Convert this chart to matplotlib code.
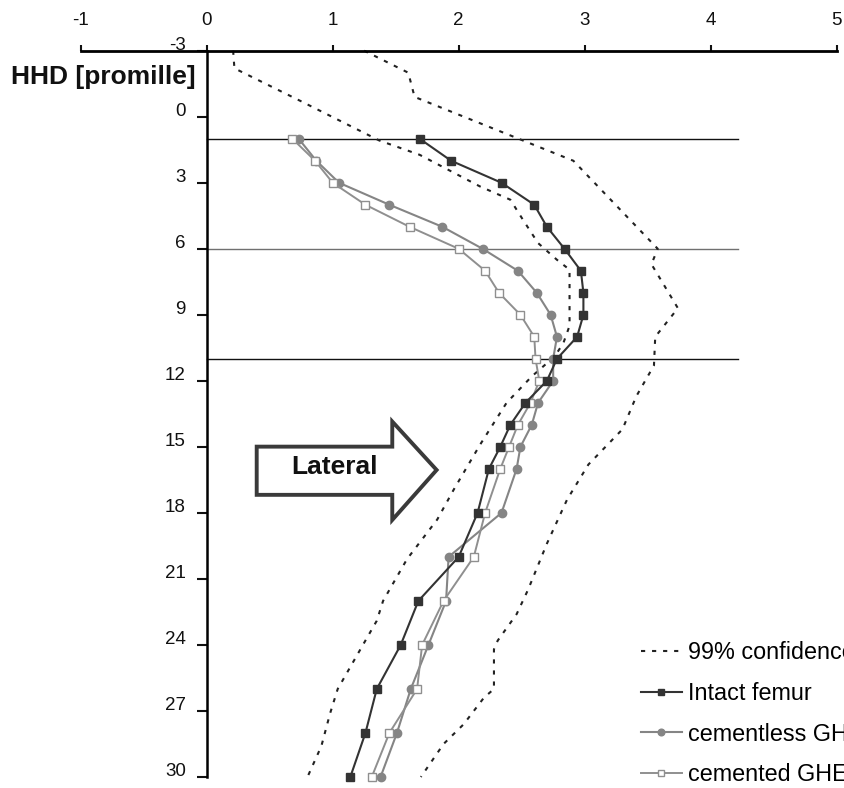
import matplotlib
matplotlib.use("Agg")
import matplotlib.pyplot as plt
from matplotlib.patches import Polygon
from matplotlib.transforms import ScaledTranslation

plt.rcParams['font.family'] = ['Liberation Sans', 'DejaVu Sans']
plt.rcParams['axes.unicode_minus'] = False

# Depth along the femur (HHD, promille) and measured strain-like values
depth = [1, 2, 3, 4, 5, 6, 7, 8, 9, 10, 11, 12, 13, 14, 15, 16, 18, 20, 22, 24, 26, 28, 30]
intact = [1.69, 1.94, 2.34, 2.60, 2.70, 2.84, 2.97, 2.99, 2.99, 2.94, 2.78, 2.70,
          2.53, 2.41, 2.33, 2.24, 2.15, 2.00, 1.68, 1.54, 1.35, 1.26, 1.14]
cementless = [0.73, 0.87, 1.05, 1.45, 1.87, 2.19, 2.47, 2.62, 2.73, 2.78, 2.75, 2.75,
              2.63, 2.58, 2.49, 2.46, 2.34, 1.92, 1.90, 1.76, 1.62, 1.51, 1.38]
cemented = [0.68, 0.86, 1.00, 1.26, 1.61, 2.00, 2.21, 2.32, 2.49, 2.60, 2.61, 2.64,
            2.57, 2.47, 2.40, 2.33, 2.21, 2.12, 1.88, 1.71, 1.67, 1.45, 1.31]

# 99% confidence band of the intact femur
ci_lower_x = [0.21, 0.22, 0.75, 1.37, 1.69, 2.17, 2.41, 2.51, 2.63, 2.78, 2.88, 2.88, 2.83,
              2.76, 2.58, 2.38, 2.17, 1.96, 1.83, 1.59, 1.40, 1.35, 1.19, 1.04, 0.98, 0.91, 0.80]
ci_lower_y = [-3, -2.2, -0.7, 1.08, 1.73, 3.17, 3.77, 4.68, 5.74, 6.5, 6.95, 9.5, 10.3,
              10.9, 11.8, 13.0, 14.9, 16.95, 18.3, 20.1, 22.0, 22.9, 24.5, 26.0, 27.1, 28.6, 30]
ci_upper_x = [1.25, 1.60, 1.65, 2.91, 3.58, 3.53, 3.74, 3.56, 3.55, 3.41, 3.30, 3.03, 2.86,
              2.70, 2.55, 2.46, 2.31, 2.28, 2.28, 2.20, 2.04, 1.88, 1.70]
ci_upper_y = [-3, -2.0, -0.9, 2.0, 6.0, 6.7, 8.7, 10.0, 11.3, 12.7, 14.2, 15.8, 17.4,
              19.4, 21.5, 22.6, 23.8, 24.2, 26.0, 26.4, 27.6, 28.5, 30]

# Reference levels
ref_levels = [1, 6, 11]
ref_colors = ['#111111', '#707070', '#111111']

x_ticks = [-1, 0, 1, 2, 3, 4, 5]
y_ticks = [-3, 0, 3, 6, 9, 12, 15, 18, 21, 24, 27, 30]

fig = plt.figure(figsize=(8.44, 7.88), dpi=100)
ax = fig.add_axes([0.0956, 0.01396, 0.8957, 0.9217])
ax.set_xlim(-1, 5)
ax.set_ylim(30, -3)

for lvl, col in zip(ref_levels, ref_colors):
    ax.plot([0, 4.22], [lvl, lvl], color=col, lw=1.0, zorder=1)

dash = (2.0, 3.3)
ci_line, = ax.plot(ci_lower_x, ci_lower_y, color='#222222', lw=1.5, dashes=dash,
                   clip_on=False, zorder=2, label='99% confidence interval')
ax.plot(ci_upper_x, ci_upper_y, color='#222222', lw=1.5, dashes=dash,
        clip_on=False, zorder=2)

l_int, = ax.plot(intact, depth, color='#333333', lw=1.5, marker='s', ms=6.2,
                 mfc='#333333', mec='#333333', clip_on=False, zorder=4,
                 label='Intact femur')
l_cl, = ax.plot(cementless, depth, color='#858585', lw=1.5, marker='o', ms=6.0,
                mfc='#858585', mec='#858585', clip_on=False, zorder=3,
                label='cementless GHE')
l_ce, = ax.plot(cemented, depth, color='#8f8f8f', lw=1.4, marker='s', ms=6.0,
                mfc='white', mec='#8f8f8f', mew=1.0, clip_on=False, zorder=3,
                label='cemented GHE')

# Axes styling: top x axis, left axis at x = 0
for s in ['right', 'bottom']:
    ax.spines[s].set_visible(False)
ax.spines['left'].set_position(('data', 0))
ax.spines['left'].set_linewidth(1.8)
ax.spines['top'].set_linewidth(2.0)
ax.xaxis.tick_top()
ax.set_xticks(x_ticks)
ax.set_xticklabels([str(v) for v in x_ticks])
ax.set_yticks(y_ticks)
ax.set_yticklabels([str(v) for v in y_ticks])
ax.tick_params(axis='x', direction='out', length=4.3, width=1.5, pad=11,
               labelsize=13.5, colors='#111111')
ax.tick_params(axis='y', direction='out', length=7, width=1.5, pad=8,
               labelsize=13.5, colors='#111111')
shift = ScaledTranslation(0, 7 / 100, fig.dpi_scale_trans)
for lab in ax.get_yticklabels():
    lab.set_transform(lab.get_transform() + shift)

fig.text(0.1226, 0.9023, 'HHD [promille]', fontsize=19, fontweight='bold',
         ha='center', va='center', color='#111111')

# "Lateral" block arrow
arrow_pts = [(0.397, 14.99), (1.473, 14.99), (1.473, 13.85), (1.825, 16.05),
             (1.473, 18.32), (1.473, 17.18), (0.397, 17.18)]
ax.add_patch(Polygon(arrow_pts, closed=True, facecolor='white', edgecolor='#3a3a3a',
                     lw=2.8, joinstyle='miter', zorder=5))
ax.text(1.018, 16.24, 'Lateral', fontsize=19, fontweight='bold', ha='center',
        va='baseline', color='#111111', zorder=6)

fig.legend(handles=[ci_line, l_int, l_cl, l_ce], loc='upper left',
           bbox_to_anchor=(0.759, 0.1865), frameon=False, fontsize=16.8,
           borderpad=0, handlelength=1.76, handletextpad=0.28, labelspacing=0.76,
           borderaxespad=0, markerscale=0.8)

fig.savefig('out.png', dpi=100)
